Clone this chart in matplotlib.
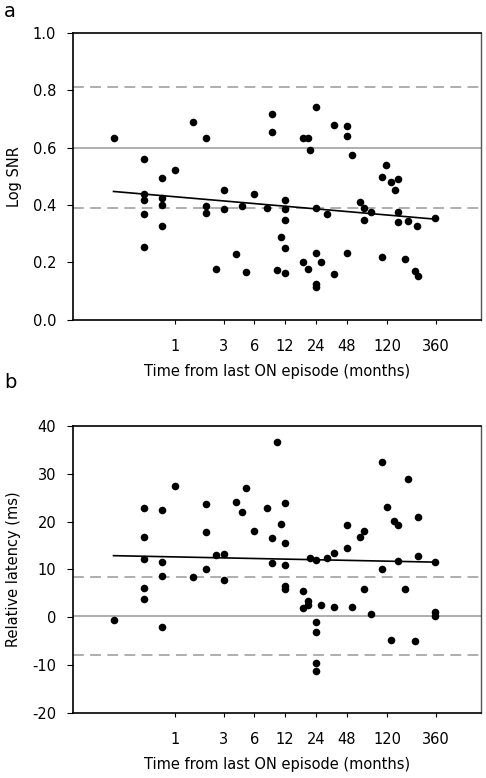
import numpy as np
import matplotlib
matplotlib.use("Agg")
import matplotlib.pyplot as plt

# Panel a : Log SNR en fonction du temps depuis le dernier episode (mois)
mois_a = [0.25,
          0.5, 0.5, 0.5, 0.5, 0.5,
          0.75, 0.75, 0.75, 0.75,
          1, 1.5, 2, 2, 2, 2.5, 3, 3, 4, 4.5, 5, 6, 8, 9, 9, 10, 11,
          12, 12, 12, 12, 12,
          18, 18, 20, 20, 21,
          24, 24, 24, 24, 24,
          27, 31, 36, 36, 48, 48, 48, 54, 65, 71, 71, 84,
          106, 106, 118, 130, 142, 154, 154, 154,
          179, 190, 225, 237, 240, 357]
snr_a = [0.634,
         0.560, 0.437, 0.418, 0.369, 0.252,
         0.495, 0.424, 0.400, 0.327,
         0.520, 0.690, 0.632, 0.395, 0.372, 0.177, 0.451, 0.386, 0.229, 0.395,
         0.167, 0.437, 0.389, 0.718, 0.655, 0.172, 0.290,
         0.417, 0.386, 0.347, 0.250, 0.163,
         0.633, 0.201, 0.633, 0.177, 0.591,
         0.740, 0.391, 0.233, 0.124, 0.113,
         0.201, 0.370, 0.680, 0.159, 0.675, 0.641, 0.232, 0.575, 0.409, 0.389, 0.346, 0.376,
         0.497, 0.218, 0.540, 0.480, 0.453, 0.491, 0.377, 0.340,
         0.212, 0.344, 0.171, 0.326, 0.151, 0.355]

# Panel b : latence relative (ms)
mois_b = [0.25,
          0.5, 0.5, 0.5, 0.5, 0.5,
          0.75, 0.75, 0.75, 0.75,
          1, 1.5, 2, 2, 2, 2.5, 3, 3, 4, 4.5, 5, 6, 8, 9, 9, 10, 11,
          12, 12, 12, 12, 12,
          18, 18, 20, 20, 21,
          24, 24, 24, 24, 24,
          27, 31, 36, 36, 48, 48, 54, 65, 71, 71, 84,
          107, 107, 119, 130, 140, 154, 154,
          179, 190, 225, 240, 240, 357, 357, 357]
lat_b = [-0.6,
         22.8, 16.9, 12.2, 6.2, 3.9,
         22.5, 11.5, 8.7, -2.0,
         27.4, 8.4, 23.8, 17.9, 10.2, 13.1, 13.3, 7.8, 24.2, 22.0, 27.0, 18.0,
         22.9, 16.5, 11.3, 36.7, 19.5,
         24.0, 15.5, 10.9, 6.6, 5.9,
         5.5, 1.9, 3.3, 2.6, 12.4,
         12.0, -1.1, -3.2, -9.7, -11.2,
         2.6, 12.4, 13.4, 2.2, 19.3, 14.6, 2.1, 16.9, 18.1, 5.9, 0.6,
         32.6, 10.0, 23.2, -4.7, 20.2, 19.4, 11.8,
         5.9, 29.0, -4.9, 21.1, 12.8, 11.6, 1.0, 0.3]

# Droites de regression (ordonnee a l'origine, pente par decade)
fit_a = (0.4285, -0.0306)
fit_b = (12.64, -0.43)

# Lignes horizontales de reference (moyenne et limites)
ref_a = [0.39, 0.60, 0.81]
ref_b = [-7.9, 0.3, 8.5]

xticks = [1, 3, 6, 12, 24, 48, 120, 360]
xlabel = "Time from last ON episode (months)"


def panneau(ax, x, y, fit, refs, ylim, yticks, yfmt, ylabel):
    # lignes de reference : la premiere et la derniere en tirets, celle du milieu pleine
    for i, r in enumerate(refs):
        style = '-' if i == 1 else (0, (6, 3.5))
        ax.axhline(r, color='#a8a8a8', lw=1.3, ls=style, zorder=1)
    xs = np.array([min(x), max(x)])
    ax.plot(xs, fit[0] + fit[1] * np.log10(xs), color='black', lw=1.2, zorder=3)
    ax.scatter(x, y, s=30, color='black', zorder=4, linewidths=0)
    ax.set_xscale('log')
    ax.set_xlim(0.1, 1000)
    ax.set_ylim(*ylim)
    ax.set_xticks(xticks)
    ax.set_xticklabels([str(t) for t in xticks])
    ax.minorticks_off()
    ax.set_yticks(yticks)
    ax.set_yticklabels([yfmt.format(v) for v in yticks])
    ax.tick_params(axis='x', direction='out', length=3, pad=11, labelsize=10.5)
    ax.tick_params(axis='y', direction='out', length=4, pad=8, labelsize=10.5)
    ax.set_xlabel(xlabel, fontsize=10.5, labelpad=7)
    ax.set_ylabel(ylabel, fontsize=10.5, labelpad=8)
    for s in ['left', 'bottom', 'top']:
        ax.spines[s].set_color('black')
        ax.spines[s].set_linewidth(1.2)
    ax.spines['right'].set_color('#555555')
    ax.spines['right'].set_linewidth(1.0)


fig = plt.figure(figsize=(4.86, 7.78), dpi=100)
ax1 = fig.add_axes([0.150, 0.589, 0.840, 0.369])
ax2 = fig.add_axes([0.150, 0.084, 0.840, 0.368])

panneau(ax1, mois_a, snr_a, fit_a, ref_a, (0, 1.0),
        [0.0, 0.2, 0.4, 0.6, 0.8, 1.0], "{:.1f}", "Log SNR")
panneau(ax2, mois_b, lat_b, fit_b, ref_b, (-20, 40),
        [-20, -10, 0, 10, 20, 30, 40], "{:d}", "Relative latency (ms)")

fig.text(0.008, 0.985, "a", fontsize=14, va='center')
fig.text(0.008, 0.508, "b", fontsize=14, va='center')

fig.savefig("out.png", dpi=100)
